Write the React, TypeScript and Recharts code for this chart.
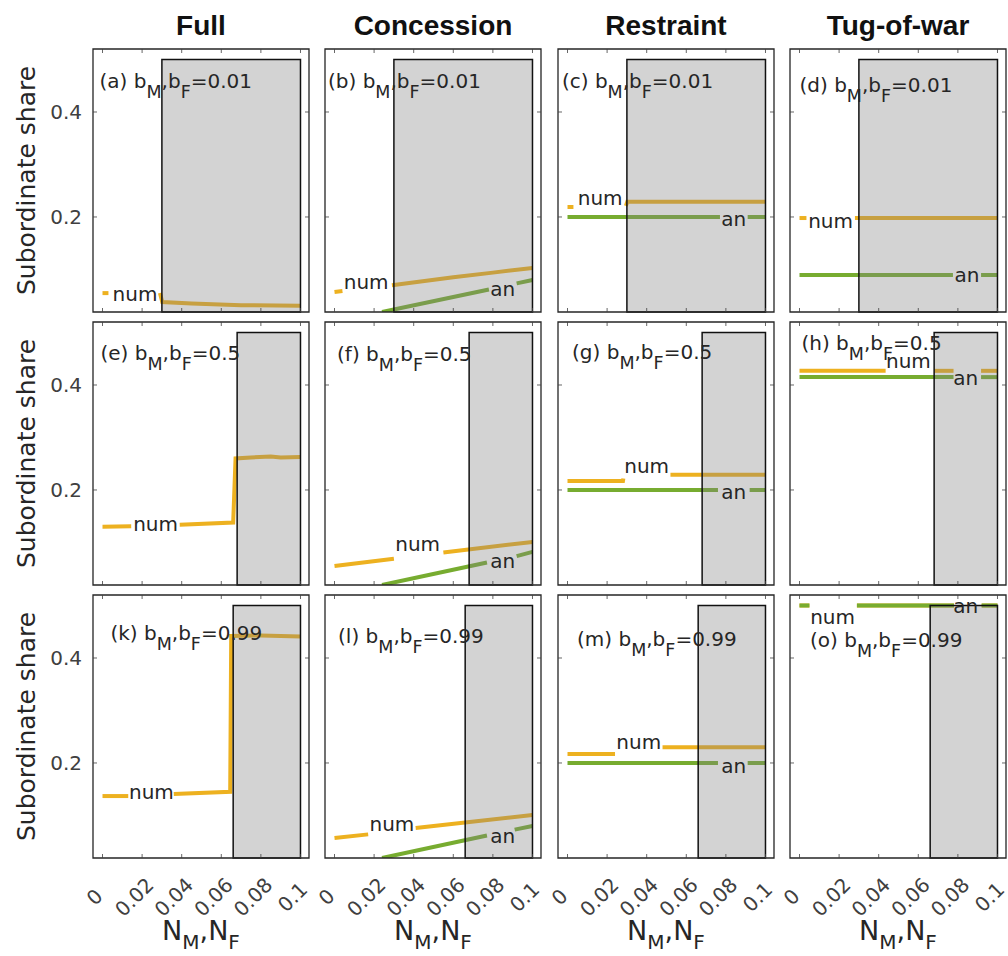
import React from 'react';
import { ComposedChart, Line, XAxis, YAxis, ReferenceArea, ReferenceDot } from 'recharts';

type Pt = [number, number];
type Seg = Pt[];

// ---- axes / labels ----
const TITLES = ['Full', 'Concession', 'Restraint', 'Tug-of-war'];
const B_VALUES = ['0.01', '0.5', '0.99'];
const LETTERS = [
  ['a', 'b', 'c', 'd'],
  ['e', 'f', 'g', 'h'],
  ['k', 'l', 'm', 'o'],
];
const THRESHOLDS = [0.03, 0.068, 0.066];
const X_TICKS = [0, 0.02, 0.04, 0.06, 0.08, 0.1];
const X_TICK_LABELS = ['0', '0.02', '0.04', '0.06', '0.08', '0.1'];
const Y_TICKS = [0.2, 0.4];
const Y_TICK_LABELS = ['0.2', '0.4'];
const X_DOMAIN: [number, number] = [-0.0048, 0.1043];
const Y_DOMAIN: [number, number] = [0.019, 0.52];
const SHADE_TOP = 0.5;
const SHADE_RIGHT = 0.1;

// ---- series: numerical ("num") and analytical ("an") subordinate share ----
// (a) Full, b = 0.01
const NUM_A: Seg[] = [
  [[0, 0.055], [0.003, 0.055]],
  [[0.029, 0.055], [0.0302, 0.038], [0.045, 0.035], [0.07, 0.032], [0.1, 0.031]],
];
const AN_A: Seg[] = [];
// (b) Concession, b = 0.01
const NUM_B: Seg[] = [
  [[0, 0.057], [0.004, 0.059]],
  [[0.029, 0.07], [0.06, 0.085], [0.08, 0.094], [0.1, 0.103]],
];
const AN_B: Seg[] = [
  [[0.024, 0.019], [0.078, 0.062]],
  [[0.092, 0.0735], [0.1, 0.08]],
];
// (c) Restraint, b = 0.01
const NUM_C: Seg[] = [
  [[0, 0.219], [0.003, 0.219]],
  [[0.0295, 0.221], [0.0302, 0.229], [0.1, 0.229]],
];
const AN_C: Seg[] = [
  [[0, 0.2], [0.077, 0.2]],
  [[0.091, 0.2], [0.1, 0.2]],
];
// (d) Tug-of-war, b = 0.01
const NUM_D: Seg[] = [
  [[0, 0.198], [0.0035, 0.198]],
  [[0.028, 0.198], [0.1, 0.198]],
];
const AN_D: Seg[] = [
  [[0, 0.0895], [0.0775, 0.0895]],
  [[0.0917, 0.0895], [0.1, 0.0895]],
];
// (e) Full, b = 0.5
const NUM_E: Seg[] = [
  [[0, 0.13], [0.0145, 0.131]],
  [[0.039, 0.134], [0.066, 0.138], [0.0672, 0.26], [0.075, 0.262], [0.085, 0.264], [0.09, 0.262], [0.1, 0.263]],
];
const AN_E: Seg[] = [];
// (f) Concession, b = 0.5
const NUM_F: Seg[] = [
  [[0, 0.055], [0.03, 0.069]],
  [[0.055, 0.081], [0.1, 0.101]],
];
const AN_F: Seg[] = [
  [[0.024, 0.019], [0.077, 0.062]],
  [[0.092, 0.074], [0.1, 0.082]],
];
// (g) Restraint, b = 0.5
const NUM_G: Seg[] = [
  [[0, 0.217], [0.028, 0.217], [0.0282, 0.222]],
  [[0.052, 0.229], [0.1, 0.229]],
];
const AN_G: Seg[] = [
  [[0, 0.2], [0.076, 0.2]],
  [[0.092, 0.2], [0.1, 0.2]],
];
// (h) Tug-of-war, b = 0.5
const NUM_H: Seg[] = [
  [[0, 0.427], [0.0435, 0.427]],
  [[0.068, 0.427], [0.0778, 0.427]],
  [[0.0917, 0.427], [0.1, 0.427]],
];
const AN_H: Seg[] = [
  [[0, 0.415], [0.0778, 0.415]],
  [[0.0917, 0.415], [0.1, 0.415]],
];
// (k) Full, b = 0.99
const NUM_K: Seg[] = [
  [[0, 0.137], [0.013, 0.137]],
  [[0.036, 0.141], [0.0645, 0.145], [0.065, 0.442], [0.08, 0.443], [0.1, 0.441]],
];
const AN_K: Seg[] = [];
// (l) Concession, b = 0.99
const NUM_L: Seg[] = [
  [[0, 0.057], [0.017, 0.064]],
  [[0.041, 0.076], [0.1, 0.101]],
];
const AN_L: Seg[] = [
  [[0.024, 0.019], [0.077, 0.062]],
  [[0.091, 0.073], [0.1, 0.08]],
];
// (m) Restraint, b = 0.99
const NUM_M: Seg[] = [
  [[0, 0.217], [0.024, 0.217]],
  [[0.048, 0.23], [0.1, 0.23]],
];
const AN_M: Seg[] = [
  [[0, 0.2], [0.076, 0.2]],
  [[0.091, 0.2], [0.1, 0.2]],
];
// (o) Tug-of-war, b = 0.99
const NUM_O: Seg[] = [
  [[0, 0.5], [0.005, 0.5]],
  [[0.029, 0.5], [0.078, 0.5]],
  [[0.092, 0.5], [0.1, 0.5]],
];
const AN_O: Seg[] = [
  [[0, 0.5], [0.005, 0.5]],
  [[0.029, 0.5], [0.078, 0.5]],
  [[0.092, 0.5], [0.1, 0.5]],
];

const NUM_SERIES = [NUM_A, NUM_B, NUM_C, NUM_D, NUM_E, NUM_F, NUM_G, NUM_H, NUM_K, NUM_L, NUM_M, NUM_O];
const AN_SERIES = [AN_A, AN_B, AN_C, AN_D, AN_E, AN_F, AN_G, AN_H, AN_K, AN_L, AN_M, AN_O];

// inline curve labels (x, y centre) and panel caption anchors (x, baseline y)
const NUM_TAGS: (Pt | null)[] = [
  [0.0164, 0.0495], [0.016, 0.074], [0.0165, 0.234], [0.0157, 0.19],
  [0.0268, 0.133], [0.042, 0.095], [0.04, 0.242], [0.055, 0.442],
  [0.0247, 0.142], [0.029, 0.08], [0.036, 0.236], [0.0167, 0.475],
];
const AN_TAGS: (Pt | null)[] = [
  null, [0.085, 0.059], [0.084, 0.194], [0.0846, 0.0867],
  null, [0.085, 0.061], [0.084, 0.194], [0.084, 0.41],
  null, [0.085, 0.058], [0.084, 0.192], [0.084, 0.496],
];
const CAPTION_POS: Pt[] = [
  [-0.0015, 0.446], [-0.0033, 0.446], [-0.0028, 0.446], [0, 0.439],
  [-0.001, 0.448], [0.0013, 0.446], [0.0023, 0.45], [0.001, 0.467],
  [0.004, 0.434], [0.0018, 0.429], [0.0048, 0.423], [0.0053, 0.421],
];

// ---- layout ----
const COL_LEFT = [93, 325, 558, 790];
const ROW_TOP = [49, 322, 595];
const PLOT_W = 216;
const PLOT_H = 263;
const PAD = 4;
const AXIS_W = 90;
const AXIS_H = 60;
const INK = '#262626';
const TICK_INK = '#404040';
const ORANGE = '#EDB120';
const GREEN = '#77AC30';
const LINE_W = 4;
const FONT = '"DejaVu Sans", sans-serif';

const toRows = (seg: Seg) => seg.map(([x, y]) => ({ x, y }));

function Panel({ row, col }: { row: number; col: number }) {
  const idx = row * 4 + col;
  const showY = col === 0;
  const showX = row === 2;
  const numTag = NUM_TAGS[idx];
  const anTag = AN_TAGS[idx];
  const cap = CAPTION_POS[idx];

  const xTick = (props: any) => {
    const { x, y, payload } = props;
    const label = X_TICK_LABELS[X_TICKS.indexOf(payload.value)];
    return (
      <g>
        <line x1={x} y1={y} x2={x} y2={y - 4} stroke={TICK_INK} strokeWidth={0.8} />
        <line x1={x} y1={y - PLOT_H} x2={x} y2={y - PLOT_H + 4} stroke={TICK_INK} strokeWidth={0.8} />
        {showX && (
          <text
            transform={`translate(${x - 8},${y + 39}) rotate(-45)`}
            textAnchor="middle"
            dy="0.36em"
            fontFamily={FONT}
            fontSize={20}
            fill={TICK_INK}
          >
            {label}
          </text>
        )}
      </g>
    );
  };

  const yTick = (props: any) => {
    const { x, y, payload } = props;
    const label = Y_TICK_LABELS[Y_TICKS.indexOf(payload.value)];
    return (
      <g>
        <line x1={x} y1={y} x2={x + 4} y2={y} stroke={TICK_INK} strokeWidth={0.8} />
        <line x1={x + PLOT_W} y1={y} x2={x + PLOT_W - 4} y2={y} stroke={TICK_INK} strokeWidth={0.8} />
        {showY && (
          <text x={x - 11} y={y} dy="0.36em" textAnchor="end" fontFamily={FONT} fontSize={20} fill={TICK_INK}>
            {label}
          </text>
        )}
      </g>
    );
  };

  const tag = (text: string) => (props: any) => (
    <text x={props.cx} y={props.cy} dy="0.27em" textAnchor="middle" fontFamily={FONT} fontSize={20} fill={INK}>
      {text}
    </text>
  );

  const caption = (props: any) => (
    <text x={props.cx} y={props.cy} fontFamily={FONT} fontSize={20} fill={INK}>
      <tspan>{`(${LETTERS[row][col]}) b`}</tspan>
      <tspan fontSize={17.5} dy={10}>M</tspan>
      <tspan dy={-10}>,b</tspan>
      <tspan fontSize={17.5} dy={10}>F</tspan>
      <tspan dy={-10}>{`=${B_VALUES[row]}`}</tspan>
    </text>
  );

  const w = PAD + AXIS_W + PLOT_W + PAD;
  const h = PAD + PLOT_H + AXIS_H + PAD;

  return (
    <div style={{ position: 'absolute', left: COL_LEFT[col] - AXIS_W - PAD, top: ROW_TOP[row] - PAD }}>
      <ComposedChart width={w} height={h} margin={{ top: PAD, right: PAD, bottom: PAD, left: PAD }}>
        <XAxis
          type="number"
          dataKey="x"
          domain={X_DOMAIN}
          allowDataOverflow
          ticks={X_TICKS}
          interval={0}
          height={AXIS_H}
          axisLine={false}
          tickLine={false}
          tickSize={0}
          tickMargin={0}
          tick={xTick}
        />
        <YAxis
          type="number"
          domain={Y_DOMAIN}
          allowDataOverflow
          ticks={Y_TICKS}
          interval={0}
          width={AXIS_W}
          axisLine={false}
          tickLine={false}
          tickSize={0}
          tickMargin={0}
          tick={yTick}
        />
        {NUM_SERIES[idx].map((seg, i) => (
          <Line
            key={`num-${i}`}
            data={toRows(seg)}
            dataKey="y"
            type="linear"
            stroke={ORANGE}
            strokeWidth={LINE_W}
            dot={false}
            activeDot={false}
            isAnimationActive={false}
          />
        ))}
        {AN_SERIES[idx].map((seg, i) => (
          <Line
            key={`an-${i}`}
            data={toRows(seg)}
            dataKey="y"
            type="linear"
            stroke={GREEN}
            strokeWidth={LINE_W}
            dot={false}
            activeDot={false}
            isAnimationActive={false}
          />
        ))}
        <ReferenceArea
          x1={THRESHOLDS[row]}
          x2={SHADE_RIGHT}
          y1={Y_DOMAIN[0]}
          y2={SHADE_TOP}
          fill="#808080"
          fillOpacity={0.35}
          stroke="#111"
          strokeWidth={1.5}
          ifOverflow="visible"
          zIndex={500}
        />
        <ReferenceArea
          x1={X_DOMAIN[0]}
          x2={X_DOMAIN[1]}
          y1={Y_DOMAIN[0]}
          y2={Y_DOMAIN[1]}
          fill="none"
          fillOpacity={0}
          stroke={INK}
          strokeWidth={1.3}
          ifOverflow="visible"
          zIndex={550}
        />
        {numTag && <ReferenceDot x={numTag[0]} y={numTag[1]} r={0} ifOverflow="visible" shape={tag('num')} zIndex={700} />}
        {anTag && <ReferenceDot x={anTag[0]} y={anTag[1]} r={0} ifOverflow="visible" shape={tag('an')} zIndex={700} />}
        <ReferenceDot x={cap[0]} y={cap[1]} r={0} ifOverflow="visible" shape={caption} zIndex={700} />
      </ComposedChart>
    </div>
  );
}

export default function App() {
  const rows = [0, 1, 2];
  const cols = [0, 1, 2, 3];
  return (
    <div style={{ position: 'absolute', left: 0, top: 0, width: 1008, height: 956, background: '#fff', overflow: 'hidden' }}>
      <svg width={1008} height={956} style={{ position: 'absolute', left: 0, top: 0 }}>
        {cols.map((c) => (
          <text
            key={`t${c}`}
            x={COL_LEFT[c] + PLOT_W / 2}
            y={35}
            textAnchor="middle"
            fontFamily='"Liberation Sans", Arial, sans-serif'
            fontWeight="bold"
            fontSize={28}
            fill="#111"
          >
            {TITLES[c]}
          </text>
        ))}
        {rows.map((r) => (
          <text
            key={`y${r}`}
            transform={`translate(35,${ROW_TOP[r] + PLOT_H / 2}) rotate(-90)`}
            textAnchor="middle"
            fontFamily={FONT}
            fontSize={25}
            fill={INK}
          >
            Subordinate share
          </text>
        ))}
        {cols.map((c) => (
          <text
            key={`x${c}`}
            x={COL_LEFT[c] + PLOT_W / 2}
            y={940}
            textAnchor="middle"
            fontFamily={FONT}
            fontSize={27}
            fill={INK}
          >
            <tspan>N</tspan>
            <tspan fontSize={20} dy={9}>M</tspan>
            <tspan dy={-9}>,N</tspan>
            <tspan fontSize={20} dy={9}>F</tspan>
          </text>
        ))}
      </svg>
      {rows.map((r) => cols.map((c) => <Panel key={`${r}-${c}`} row={r} col={c} />))}
    </div>
  );
}
